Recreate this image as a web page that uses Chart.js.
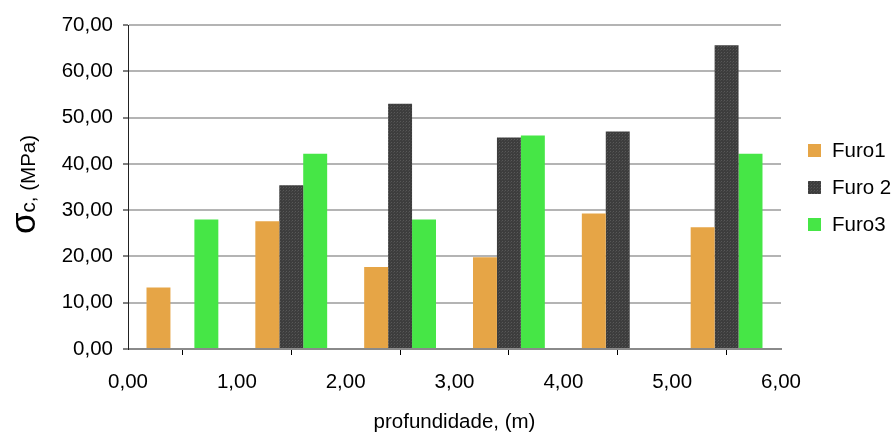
<!DOCTYPE html>
<html>
<head>
<meta charset="utf-8">
<script src="https://cdn.jsdelivr.net/npm/chart.js@4.4.1/dist/chart.umd.min.js"></script>
<style>
  html, body { margin: 0; padding: 0; background: #fff; }
  #wrap { width: 896px; height: 435px; position: relative; }
</style>
</head>
<body>
<div id="wrap"><canvas id="c" width="896" height="435"></canvas></div>
<script>
// Depth positions (m) at the centre of each sampled interval
const depths = [0.5, 1.5, 2.5, 3.5, 4.5, 5.5];
// Uniaxial compressive strength σc (MPa) per borehole
const furo1 = [13.3, 27.6, 17.7, 19.8, 29.3, 26.3];
const furo2 = [null, 35.4, 53.0, 45.7, 47.0, 65.6];
const furo3 = [28.0, 42.2, 28.0, 46.1, null, 42.2];
const seriesNames = ['Furo1', 'Furo 2', 'Furo3'];
const yTicks = [0, 10, 20, 30, 40, 50, 60, 70];
const xTicks = [0, 1, 2, 3, 4, 5, 6];

const FONT = '"Liberation Sans", Arial, sans-serif';
const FS = 20.5;
const fmt = v => Number(v).toFixed(2).replace('.', ',');

// Fine dotted texture for the dark series
function darkPattern() {
  const t = document.createElement('canvas');
  t.width = 3; t.height = 3;
  const g = t.getContext('2d');
  g.fillStyle = '#3d3d3d'; g.fillRect(0, 0, 3, 3);
  g.fillStyle = '#585858'; g.fillRect(1, 1, 1, 1);
  g.fillStyle = '#4a4a4a'; g.fillRect(0, 2, 1, 1);
  return g.createPattern(t, 'repeat');
}
const ctx = document.getElementById('c').getContext('2d');
const colors = ['#E6A546', darkPattern(), '#46E646'];
const pts = arr => depths.map((x, i) => ({ x: x, y: arr[i] }));

// Legend and the y-axis title with the larger sigma glyph
const decor = {
  id: 'decor',
  afterDraw(chart) {
    const c = chart.ctx;
    c.save();
    // legend
    c.font = FS + 'px ' + FONT;
    c.textBaseline = 'middle';
    c.textAlign = 'left';
    chart.data.datasets.forEach((ds, i) => {
      const cy = 150 + i * 37;
      c.fillStyle = ds.backgroundColor;
      c.fillRect(808, cy - 6, 13, 13);
      c.fillStyle = '#000';
      c.fillText(ds.label, 832, cy + 1);
    });
    // y axis title
    c.translate(35, 234);
    c.rotate(-Math.PI / 2);
    c.textBaseline = 'alphabetic';
    c.fillStyle = '#000';
    c.font = '35px ' + FONT;
    c.fillText('σ', 0, 0);
    const w = c.measureText('σ').width;
    c.font = FS + 'px ' + FONT;
    c.fillText('c, (MPa)', w, 0);
    c.restore();
    // x axis title
    c.save();
    c.font = FS + 'px ' + FONT;
    c.fillStyle = '#000';
    c.textAlign = 'center';
    c.textBaseline = 'middle';
    c.fillText('profundidade, (m)', (chart.chartArea.left + chart.chartArea.right) / 2, 422);
    c.restore();
  }
};

new Chart(ctx, {
  type: 'bar',
  data: {
    datasets: [
      { label: seriesNames[0], data: pts(furo1), backgroundColor: colors[0] },
      { label: seriesNames[1], data: pts(furo2), backgroundColor: colors[1] },
      { label: seriesNames[2], data: pts(furo3), backgroundColor: colors[2] }
    ]
  },
  options: {
    responsive: false,
    animation: false,
    events: [],
    layout: { padding: { left: 0, top: 25, right: 115, bottom: 0 } },
    datasets: { bar: { categoryPercentage: 0.66, barPercentage: 1.0 } },
    plugins: { legend: { display: false }, tooltip: { enabled: false } },
    scales: {
      x: {
        type: 'linear',
        min: 0, max: 6,
        offset: false,
        afterFit: s => { s.height = 86; },
        afterBuildTicks: s => { s.ticks = xTicks.map(v => ({ value: v })); },
        ticks: {
          color: '#000', font: { family: FONT, size: FS }, padding: 15,
          maxRotation: 0, callback: v => fmt(v)
        },
        grid: { drawOnChartArea: false, drawTicks: true, tickLength: 6, tickColor: '#000', tickWidth: 1 },
        border: { display: true, color: '#8a8a8a', width: 2 }
      },
      y: {
        min: 0, max: 70,
        afterFit: s => { s.width = 128; },
        afterBuildTicks: s => { s.ticks = yTicks.map(v => ({ value: v })); },
        ticks: {
          color: '#000', font: { family: FONT, size: FS }, padding: 10,
          callback: v => fmt(v)
        },
        grid: {
          color: c => (c.tick && c.tick.value === 0) ? 'rgba(0,0,0,0)' : '#b4b4b4',
          lineWidth: 2,
          borderDash: [8, 7],
          tickLength: 5,
          tickColor: '#000',
          tickWidth: 1,
          tickBorderDash: []
        },
        border: { display: true, color: '#222', width: 1 }
      }
    }
  },
  plugins: [decor]
});
</script>
</body>
</html>
